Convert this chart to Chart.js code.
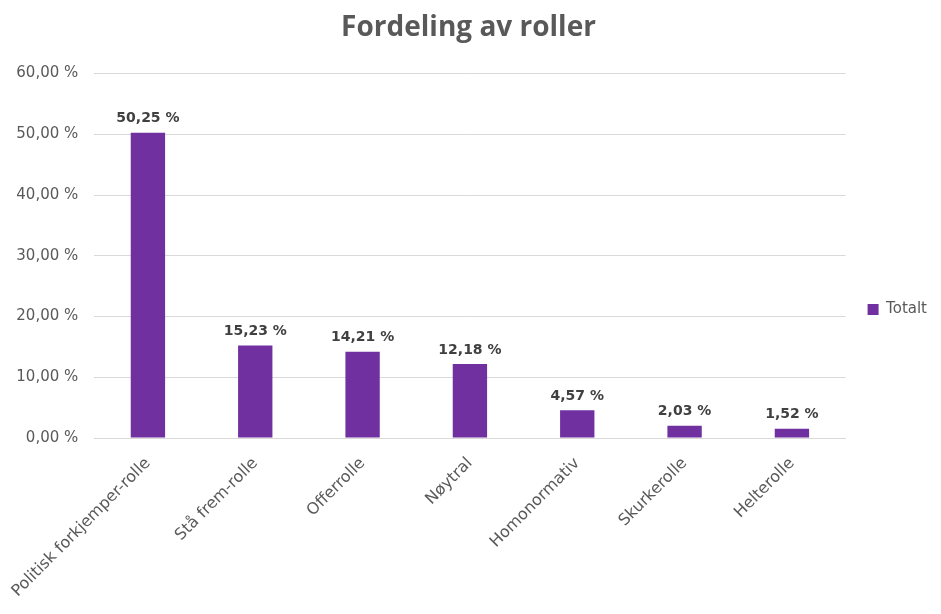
<!DOCTYPE html>
<html lang="no">
<head>
    <meta charset="UTF-8">
    <title>Fordeling av roller</title>
    <script src="https://cdn.jsdelivr.net/npm/chart.js"></script>
    <style>
        html, body {
            margin: 0;
            padding: 0;
            background: #fff;
        }
        .chart-container {
            width: 941px;
            height: 614px;
        }
    </style>
</head>
<body>
    <div class="chart-container">
        <canvas id="rolleChart"></canvas>
    </div>

    <script>
        const categories = ['Politisk forkjemper-rolle', 'Stå frem-rolle', 'Offerrolle', 'Nøytral', 'Homonormativ', 'Skurkerolle', 'Helterolle'];
        const totalt = [50.25, 15.23, 14.21, 12.18, 4.57, 2.03, 1.52];
        const yTicks = [0, 10, 20, 30, 40, 50, 60];

        const fmt = v => v.toFixed(2).replace('.', ',') + ' %';
        const font = '"DejaVu Sans", sans-serif';

        // draw the value above each bar
        const valueLabels = {
            id: 'valueLabels',
            afterDatasetsDraw(chart) {
                const ctx = chart.ctx;
                const meta = chart.getDatasetMeta(0);
                ctx.save();
                ctx.font = 'bold 14px ' + font;
                ctx.fillStyle = '#404040';
                ctx.textAlign = 'center';
                ctx.textBaseline = 'bottom';
                meta.data.forEach((bar, i) => {
                    ctx.fillText(fmt(chart.data.datasets[0].data[i]), bar.x, bar.y - 7);
                });
                ctx.restore();
            }
        };

        const ctx = document.getElementById('rolleChart').getContext('2d');
        const chart = new Chart(ctx, {
            type: 'bar',
            data: {
                labels: categories,
                datasets: [{
                    label: 'Totalt',
                    data: totalt,
                    backgroundColor: '#7030A0',
                    borderWidth: 0,
                    barPercentage: 0.64,
                    categoryPercentage: 0.5
                }]
            },
            options: {
                responsive: true,
                maintainAspectRatio: false,
                animation: false,
                layout: {
                    padding: { left: 0, right: 4, top: 5, bottom: 0 }
                },
                plugins: {
                    title: {
                        display: true,
                        text: 'Fordeling av roller',
                        color: '#595959',
                        font: { family: '"Open Sans", sans-serif', size: 28, weight: 'bold' },
                        padding: { top: 6, bottom: 29 }
                    },
                    legend: {
                        position: 'right',
                        labels: {
                            boxWidth: 11,
                            boxHeight: 11,
                            padding: 22,
                            color: '#595959',
                            font: { family: font, size: 15 }
                        }
                    },
                    tooltip: { enabled: false }
                },
                scales: {
                    x: {
                        afterFit: axis => { axis.height = 176; },
                        grid: { display: false },
                        border: { color: '#d9d9d9', width: 1 },
                        ticks: {
                            color: '#595959',
                            font: { family: font, size: 16 },
                            minRotation: 45,
                            maxRotation: 45,
                            padding: 8,
                            autoSkip: false
                        }
                    },
                    y: {
                        min: 0,
                        max: 60,
                        afterBuildTicks: axis => {
                            axis.ticks = yTicks.map(v => ({ value: v }));
                        },
                        grid: { color: '#d9d9d9', lineWidth: 1, drawTicks: false },
                        border: { display: false },
                        ticks: {
                            color: '#595959',
                            font: { family: font, size: 15 },
                            padding: 16,
                            callback: v => fmt(v)
                        }
                    }
                }
            },
            plugins: [valueLabels]
        });
    </script>
</body>
</html>
